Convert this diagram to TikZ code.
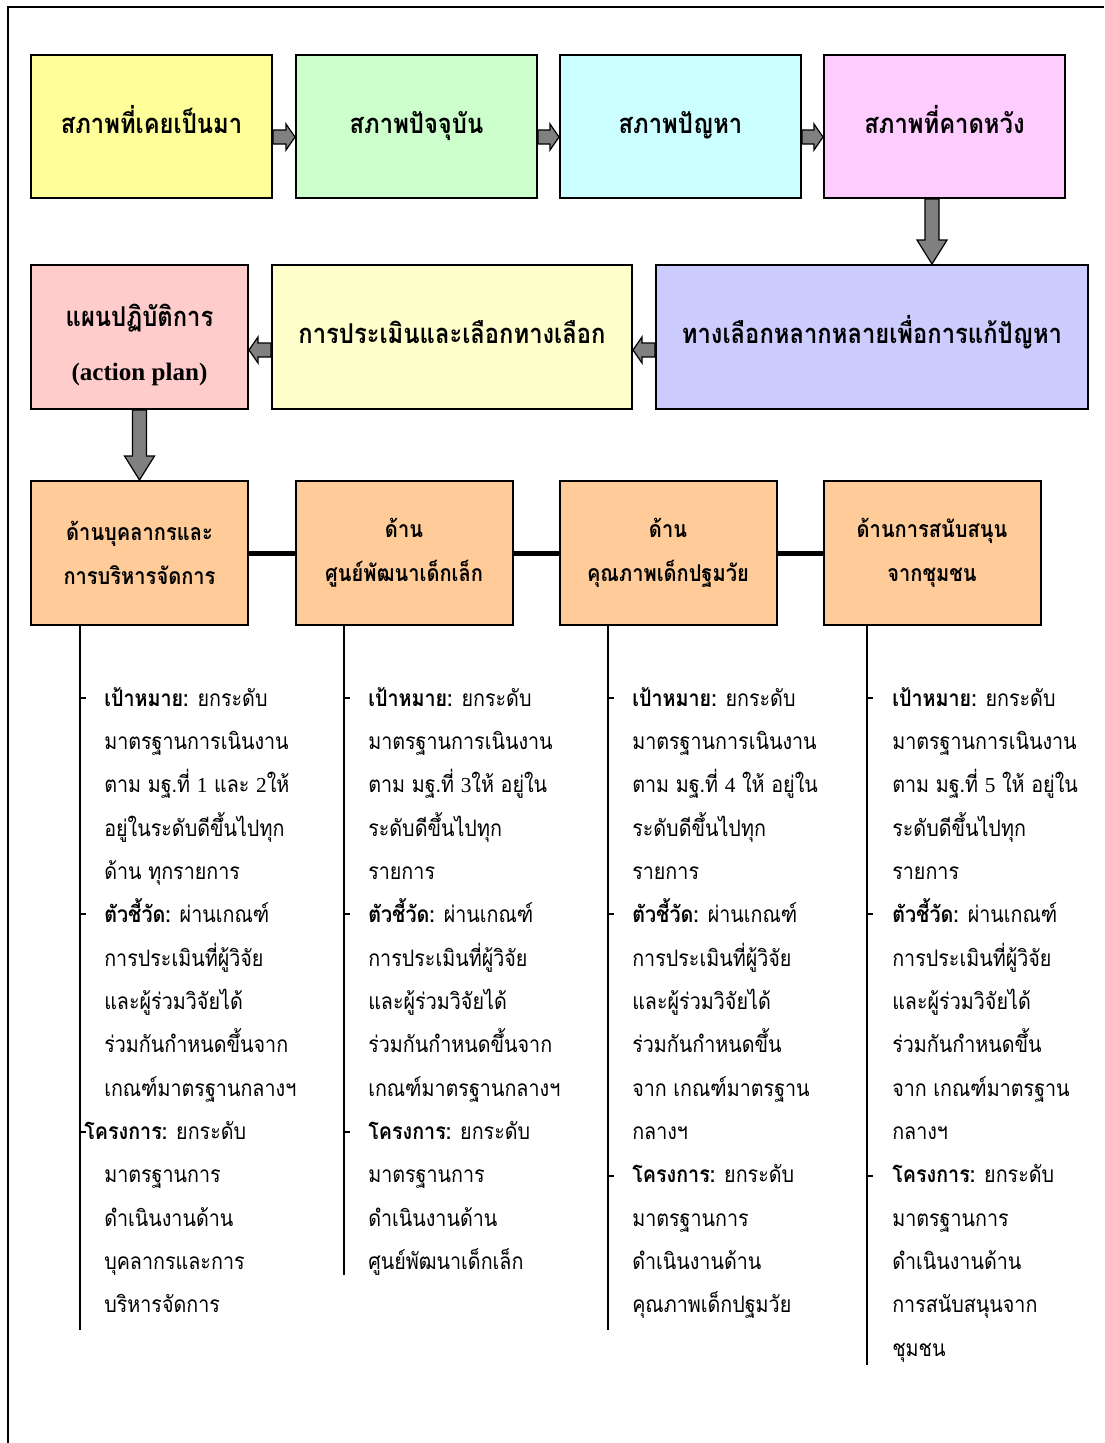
\documentclass[tikz,border=0pt]{standalone}
\usepackage{fontspec}
\setmainfont{Liberation Serif}
\newfontfamily\thaifont[Script=Thai,FakeStretch=0.87]{Loma}
\usetikzlibrary{calc}

\definecolor{pastyellow}{HTML}{FFFF99}
\definecolor{nowgreen}{HTML}{CCFFCC}
\definecolor{probcyan}{HTML}{CCFFFF}
\definecolor{hopepink}{HTML}{FFCCFF}
\definecolor{planrose}{HTML}{FFCCCC}
\definecolor{evalcream}{HTML}{FFFFCC}
\definecolor{altlilac}{HTML}{CCCCFF}
\definecolor{sideorange}{HTML}{FFCC99}
\definecolor{arrowgray}{HTML}{808080}

% fat block arrows, horizontal and vertical
\newcommand{\harrow}[2]{%
  \draw[fatarrow] let \p1=(#1), \p2=(#2), \n1={sign(\x2-\x1)} in
    (\x1,\y1+5.25pt) -- (\x2-\n1*6.75pt,\y1+5.25pt) -- (\x2-\n1*6.75pt,\y1+9.75pt) -- (\x2,\y1)
    -- (\x2-\n1*6.75pt,\y1-9.75pt) -- (\x2-\n1*6.75pt,\y1-5.25pt) -- (\x1,\y1-5.25pt) -- cycle;}
\newcommand{\varrow}[2]{%
  \draw[fatarrow] let \p1=(#1), \p2=(#2) in
    (\x1-5.25pt,\y1) -- (\x1-5.25pt,\y2+18pt) -- (\x1-11.25pt,\y2+18pt) -- (\x1,\y2)
    -- (\x1+11.25pt,\y2+18pt) -- (\x1+5.25pt,\y2+18pt) -- (\x1+5.25pt,\y1) -- cycle;}
\newcommand{\dg}[1]{{\rmfamily\fontsize{16}{32.5}\selectfont #1}}

\tikzset{
  box/.style={draw, line width=1.5pt, align=center, inner sep=0pt,
    font=\thaifont\bfseries\fontsize{20.5}{33}\selectfont},
  oneline/.style={text height=15pt, text depth=5.2pt},
  wide/.style={minimum width=180.75pt, minimum height=107.25pt},
  side/.style={minimum width=162.75pt, minimum height=108pt},
  aspect/.style={box, side, fill=sideorange, font=\thaifont\bfseries\fontsize{17.3}{33}\selectfont},
  fatarrow/.style={fill=arrowgray, draw=black, line width=0.9pt},
  col/.style={anchor=north west, align=left, inner sep=0pt,
    font=\thaifont\fontsize{17}{32.5}\selectfont},
  tick/.style={line width=1.2pt}
}

\begin{document}
\begin{tikzpicture}[x=0.75pt,y=-0.75pt]
  \useasboundingbox (0,0) rectangle (1104,1443);
  \draw[line width=1.5pt] (8,1443) -- (8,7) -- (1104,7);

  % first row
  \node [box,wide,oneline,fill=pastyellow] (s1) at (151.5,126.5) {สภาพที่เคยเป็นมา};
  \node [box,wide,oneline,fill=nowgreen] (s2) at (416.5,126.5) {สภาพปัจจุบัน};
  \node [box,wide,oneline,fill=probcyan] (s3) at (680.5,126.5) {สภาพปัญหา};
  \node [box,wide,oneline,fill=hopepink] (s4) at (944.5,126.5) {สภาพที่คาดหวัง};
  \harrow{$(s1.east)+(0,10.5)$}{$(s2.west)+(0,10.5)$}
  \harrow{$(s2.east)+(0,10.5)$}{$(s3.west)+(0,10.5)$}
  \harrow{$(s3.east)+(0,10.5)$}{$(s4.west)+(0,10.5)$}

  % second row
  \node [box,side,fill=planrose] (ap) at (139.5,337) {};
  \node [box,draw=none] (aptext) at (139.5,345) {แผนปฏิบัติการ\\[7pt]{\rmfamily\fontsize{18.8}{33}\selectfont(action plan)}};
  \node [box,oneline,minimum width=270pt,minimum height=108pt,fill=evalcream] (ev) at (452,337) {การประเมินและเลือกทางเลือก};
  \node [box,oneline,minimum width=324pt,minimum height=108pt,fill=altlilac] (alt) at (872,337) {ทางเลือกหลากหลายเพื่อการแก้ปัญหา};
  \varrow{932,0 |- s4.south}{932,0 |- alt.north}
  \harrow{$(alt.west)+(0,13)$}{$(ev.east)+(0,13)$}
  \harrow{$(ev.west)+(0,13)$}{$(ap.east)+(0,13)$}

  % third row
  \node [aspect] (b1) at (139.5,553) {ด้านบุคลากรและ\\การบริหารจัดการ};
  \node [aspect] (b2) at (404,553) {ด้าน\\ศูนย์พัฒนาเด็กเล็ก};
  \node [aspect] (b3) at (668,553) {ด้าน\\คุณภาพเด็กปฐมวัย};
  \node [aspect] (b4) at (932,553) {ด้านการสนับสนุน\\จากชุมชน};
  \varrow{ap.south}{b1.north}
  \draw [line width=3.75pt] (b1) -- (b2);
  \draw [line width=3.75pt] (b2) -- (b3);
  \draw [line width=3.75pt] (b3) -- (b4);

  % stems
  \coordinate (e1) at (80,1330);
  \coordinate (e2) at (344,1275);
  \coordinate (e3) at (608,1330);
  \coordinate (e4) at (867,1365);
  \draw [tick] (e1 |- b1.south) -- (e1);
  \draw [tick] (e2 |- b2.south) -- (e2);
  \draw [tick] (e3 |- b3.south) -- (e3);
  \draw [tick] (e4 |- b4.south) -- (e4);
  \foreach \x in {80,344,608,867}
    \draw [tick] (\x,698) -- ++(6,0) (\x,914) -- ++(6,0);
  \draw [tick] (80,1132) -- ++(6,0) (344,1132) -- ++(6,0);
  \draw [tick] (608,1176) -- ++(6,0) (867,1176) -- ++(6,0);

  % details
  \node [col] (t1) at (104,687) {\textbf{เป้าหมาย:} ยกระดับ\\มาตรฐานการเนินงาน\\ตาม มฐ.ที่ \dg{1} และ \dg{2}ให้\\อยู่ในระดับดีขึ้นไปทุก\\ด้าน ทุกรายการ\\\textbf{ตัวชี้วัด:} ผ่านเกณฑ์\\การประเมินที่ผู้วิจัย\\และผู้ร่วมวิจัยได้\\ร่วมกันกำหนดขึ้นจาก\\เกณฑ์มาตรฐานกลางฯ\\\hspace*{-15pt}\textbf{โครงการ:} ยกระดับ\\มาตรฐานการ\\ดำเนินงานด้าน\\บุคลากรและการ\\บริหารจัดการ};
  \node [col] (t2) at (368,687) {\textbf{เป้าหมาย:} ยกระดับ\\มาตรฐานการเนินงาน\\ตาม มฐ.ที่ \dg{3}ให้ อยู่ใน\\ระดับดีขึ้นไปทุก\\รายการ\\\textbf{ตัวชี้วัด:} ผ่านเกณฑ์\\การประเมินที่ผู้วิจัย\\และผู้ร่วมวิจัยได้\\ร่วมกันกำหนดขึ้นจาก\\เกณฑ์มาตรฐานกลางฯ\\\textbf{โครงการ:} ยกระดับ\\มาตรฐานการ\\ดำเนินงานด้าน\\ศูนย์พัฒนาเด็กเล็ก};
  \node [col] (t3) at (632,687) {\textbf{เป้าหมาย:} ยกระดับ\\มาตรฐานการเนินงาน\\ตาม มฐ.ที่ \dg{4} ให้ อยู่ใน\\ระดับดีขึ้นไปทุก\\รายการ\\\textbf{ตัวชี้วัด:} ผ่านเกณฑ์\\การประเมินที่ผู้วิจัย\\และผู้ร่วมวิจัยได้\\ร่วมกันกำหนดขึ้น\\จาก เกณฑ์มาตรฐาน\\กลางฯ\\\textbf{โครงการ:} ยกระดับ\\มาตรฐานการ\\ดำเนินงานด้าน\\คุณภาพเด็กปฐมวัย};
  \node [col] (t4) at (892,687) {\textbf{เป้าหมาย:} ยกระดับ\\มาตรฐานการเนินงาน\\ตาม มฐ.ที่ \dg{5} ให้ อยู่ใน\\ระดับดีขึ้นไปทุก\\รายการ\\\textbf{ตัวชี้วัด:} ผ่านเกณฑ์\\การประเมินที่ผู้วิจัย\\และผู้ร่วมวิจัยได้\\ร่วมกันกำหนดขึ้น\\จาก เกณฑ์มาตรฐาน\\กลางฯ\\\textbf{โครงการ:} ยกระดับ\\มาตรฐานการ\\ดำเนินงานด้าน\\การสนับสนุนจาก\\ชุมชน};
\end{tikzpicture}
\end{document}
